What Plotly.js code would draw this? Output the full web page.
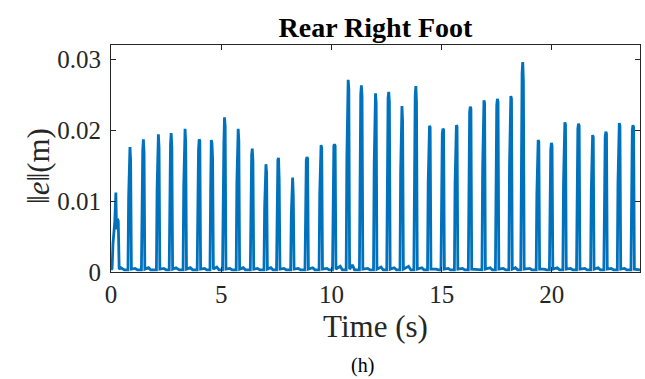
<!DOCTYPE html>
<html>
<head>
<meta charset="utf-8">
<script src="https://cdn.plot.ly/plotly-3.0.1.min.js"></script>
<style>html,body{margin:0;padding:0;background:#fff;}</style>
</head>
<body>
<div id="chart" style="width:645px;height:379px;"></div>
<script>
// Time samples (s)
var time = [
  0.00,0.05,0.09,0.13,0.17,0.22,0.25,0.29,0.33,0.37,0.45,0.60,
  0.77,0.80,0.83,0.86,0.89,0.925,1.10,1.20,
  1.38,1.41,1.44,1.47,1.50,1.535,1.70,1.80,
  2.06,2.09,2.12,2.15,2.18,2.215,2.40,2.50,
  2.64,2.67,2.70,2.73,2.76,2.795,2.95,3.10,
  3.27,3.30,3.33,3.36,3.39,3.425,3.60,3.70,
  3.91,3.94,3.97,4.00,4.03,4.065,4.25,4.35,
  4.49,4.52,4.55,4.58,4.61,4.645,4.80,4.90,
  5.06,5.09,5.12,5.15,5.18,5.215,5.40,5.50,
  5.68,5.71,5.74,5.77,5.80,5.835,6.00,6.10,
  6.32,6.35,6.38,6.41,6.44,6.475,6.65,6.75,
  6.94,6.97,7.00,7.03,7.06,7.095,7.25,7.35,
  7.51,7.54,7.57,7.60,7.63,7.665,7.85,7.95,
  8.15,8.18,8.21,8.24,8.27,8.305,8.50,8.60,
  8.80,8.83,8.86,8.89,8.92,8.955,9.15,9.25,
  9.44,9.47,9.50,9.53,9.56,9.595,9.80,9.90,
  10.05,10.08,10.11,10.14,10.17,10.205,10.40,10.50,
  10.67,10.70,10.73,10.76,10.79,10.825,10.95,11.05,
  11.27,11.30,11.33,11.36,11.39,11.425,11.65,11.75,
  11.91,11.94,11.97,12.00,12.03,12.065,12.25,12.35,
  12.51,12.54,12.57,12.60,12.63,12.665,12.85,12.95,
  13.11,13.14,13.17,13.20,13.23,13.265,13.50,13.60,
  13.74,13.77,13.80,13.83,13.86,13.895,14.10,14.20,
  14.36,14.39,14.42,14.45,14.48,14.515,14.75,14.85,
  14.97,15.00,15.03,15.06,15.09,15.125,15.30,15.40,
  15.58,15.61,15.64,15.67,15.70,15.735,15.95,16.05,
  16.21,16.24,16.27,16.30,16.33,16.365,16.55,16.65,
  16.83,16.86,16.89,16.92,16.95,16.985,17.20,17.30,
  17.44,17.47,17.50,17.53,17.56,17.595,17.80,17.90,
  18.05,18.08,18.11,18.14,18.17,18.205,18.35,18.45,
  18.59,18.62,18.65,18.68,18.71,18.745,19.00,19.10,
  19.29,19.32,19.35,19.38,19.41,19.445,19.65,19.75,
  19.89,19.92,19.95,19.98,20.01,20.045,20.25,20.35,
  20.50,20.53,20.56,20.59,20.62,20.655,20.85,20.95,
  21.12,21.15,21.18,21.21,21.24,21.275,21.50,21.60,
  21.76,21.79,21.82,21.85,21.88,21.915,22.10,22.20,
  22.36,22.39,22.42,22.45,22.48,22.515,22.70,22.80,
  22.97,23.00,23.03,23.06,23.09,23.125,23.30,23.40,
  23.59,23.62,23.65,23.68,23.71,23.745,23.90,24.00
];
// Position error norm ||e|| (m)
var errNorm = [
  0.0003,0.0005,0.0040,0.0060,0.0070,0.0112,0.0060,0.0075,0.0072,0.0004,0.0006,0.0003,
  0.0003,0.0105,0.0162,0.0176,0.0158,0.0004,0.0005,0.0003,
  0.0003,0.0112,0.0172,0.0187,0.0168,0.0004,0.0006,0.0003,
  0.0003,0.0116,0.0178,0.0194,0.0175,0.0004,0.0005,0.0003,
  0.0003,0.0118,0.0180,0.0196,0.0176,0.0004,0.0006,0.0003,
  0.0003,0.0121,0.0186,0.0202,0.0182,0.0004,0.0006,0.0003,
  0.0003,0.0112,0.0172,0.0187,0.0185,0.0004,0.0005,0.0003,
  0.0003,0.0112,0.0186,0.0182,0.0160,0.0004,0.0007,0.0003,
  0.0003,0.0120,0.0180,0.0218,0.0205,0.0004,0.0005,0.0003,
  0.0003,0.0125,0.0195,0.0202,0.0185,0.0004,0.0006,0.0003,
  0.0003,0.0104,0.0165,0.0174,0.0155,0.0004,0.0005,0.0003,
  0.0003,0.0090,0.0145,0.0152,0.0140,0.0004,0.0006,0.0003,
  0.0003,0.0100,0.0158,0.0161,0.0130,0.0004,0.0005,0.0003,
  0.0003,0.0080,0.0125,0.0133,0.0108,0.0004,0.0005,0.0003,
  0.0003,0.0105,0.0158,0.0162,0.0160,0.0004,0.0006,0.0003,
  0.0003,0.0110,0.0175,0.0179,0.0175,0.0004,0.0005,0.0003,
  0.0003,0.0110,0.0178,0.0180,0.0178,0.0004,0.0008,0.0003,
  0.0003,0.0160,0.0255,0.0271,0.0258,0.0004,0.0010,0.0003,
  0.0003,0.0160,0.0250,0.0263,0.0248,0.0004,0.0005,0.0003,
  0.0003,0.0150,0.0240,0.0252,0.0238,0.0004,0.0007,0.0003,
  0.0003,0.0155,0.0245,0.0254,0.0240,0.0004,0.0006,0.0003,
  0.0003,0.0140,0.0225,0.0234,0.0212,0.0004,0.0008,0.0003,
  0.0003,0.0155,0.0248,0.0262,0.0240,0.0004,0.0006,0.0003,
  0.0003,0.0125,0.0198,0.0206,0.0204,0.0004,0.0004,0.0003,
  0.0003,0.0120,0.0195,0.0202,0.0200,0.0004,0.0005,0.0003,
  0.0003,0.0125,0.0200,0.0207,0.0205,0.0004,0.0005,0.0003,
  0.0003,0.0140,0.0225,0.0233,0.0230,0.0004,0.0004,0.0003,
  0.0003,0.0145,0.0232,0.0242,0.0238,0.0004,0.0006,0.0003,
  0.0003,0.0145,0.0235,0.0244,0.0240,0.0004,0.0005,0.0003,
  0.0003,0.0150,0.0238,0.0248,0.0244,0.0004,0.0006,0.0003,
  0.0003,0.0175,0.0280,0.0296,0.0270,0.0004,0.0005,0.0003,
  0.0003,0.0110,0.0178,0.0186,0.0184,0.0004,0.0004,0.0003,
  0.0003,0.0110,0.0172,0.0182,0.0178,0.0004,0.0006,0.0003,
  0.0003,0.0125,0.0205,0.0211,0.0208,0.0004,0.0005,0.0003,
  0.0003,0.0125,0.0202,0.0209,0.0206,0.0004,0.0005,0.0003,
  0.0003,0.0115,0.0185,0.0193,0.0190,0.0004,0.0006,0.0003,
  0.0003,0.0120,0.0190,0.0198,0.0195,0.0004,0.0005,0.0003,
  0.0003,0.0125,0.0202,0.0210,0.0206,0.0004,0.0005,0.0003,
  0.0003,0.0125,0.0200,0.0207,0.0204,0.0004,0.0004,0.0003
];
var xTicks = [0, 5, 10, 15, 20];
var yTicks = [0, 0.01, 0.02, 0.03];
var yTickText = ['0', '0.01', '0.02', '0.03'];

var serif = '"Liberation Serif", "Times New Roman", serif';
var axisCol = '#262626';

var trace = {
  x: time, y: errNorm, type: 'scatter', mode: 'lines',
  line: {color: '#0072BD', width: 2.8},
  hoverinfo: 'skip'
};

var layout = {
  width: 645, height: 379,
  margin: {l: 111, r: 5, t: 45, b: 107},
  paper_bgcolor: '#ffffff', plot_bgcolor: '#ffffff',
  showlegend: false,
  font: {family: serif, color: axisCol},
  title: {
    text: '<b>Rear Right Foot</b>',
    font: {family: serif, size: 28, color: '#000000'},
    x: 0.5, xref: 'paper', y: 1 - 27/379, yref: 'container', yanchor: 'middle'
  },
  xaxis: {
    range: [0, 24], tickvals: xTicks, ticktext: xTicks.map(String),
    showgrid: false, zeroline: false,
    showline: true, linecolor: axisCol, linewidth: 1, mirror: 'ticks',
    ticks: 'inside', ticklen: 5, tickcolor: axisCol, tickwidth: 1,
    tickfont: {family: serif, size: 25, color: axisCol},
    title: {text: 'Time (s)', font: {family: serif, size: 31, color: axisCol}, standoff: 8}
  },
  yaxis: {
    range: [0, 0.032], tickvals: yTicks, ticktext: yTickText,
    showgrid: false, zeroline: false,
    showline: true, linecolor: axisCol, linewidth: 1, mirror: 'ticks',
    ticks: 'inside', ticklen: 5, tickcolor: axisCol, tickwidth: 1,
    tickfont: {family: serif, size: 25, color: axisCol},
    ticklabelstandoff: 4
  },
  annotations: [
    {
      text: '‖<i>e</i>‖(m)', textangle: -90,
      xref: 'paper', x: -(111 - 38)/529, xanchor: 'center',
      yref: 'paper', y: (272 - 166)/227, yanchor: 'middle',
      showarrow: false,
      font: {family: serif, size: 31, color: axisCol}
    },
    {
      text: '(h)', xref: 'paper', x: (362 - 111)/529, yref: 'paper', y: -(365.5 - 272)/227,
      yanchor: 'middle', xanchor: 'center', showarrow: false,
      font: {family: serif, size: 20, color: '#000000'}
    }
  ]
};

Plotly.newPlot('chart', [trace], layout, {displayModeBar: false, staticPlot: true});
</script>
</body>
</html>
